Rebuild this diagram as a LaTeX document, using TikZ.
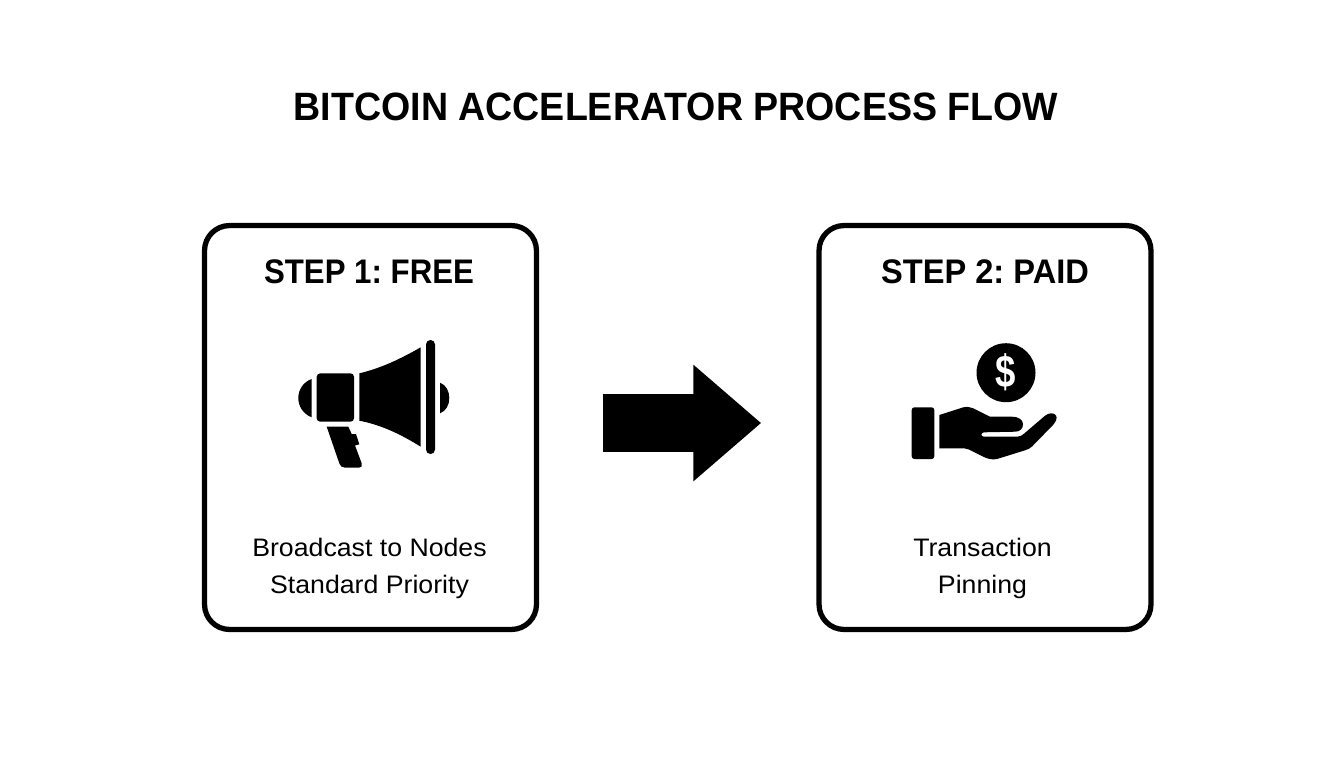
\documentclass[tikz,border=0pt]{standalone}
\usepackage{fontspec}
\setmainfont{Liberation Sans}
\newfontfamily\titlefont[FakeStretch=0.95]{Liberation Sans}
\newfontfamily\headfont[FakeStretch=0.916]{Liberation Sans}
\newfontfamily\paidfont[FakeStretch=0.957]{Liberation Sans}
\newfontfamily\bodyfont[FakeStretch=1.055]{Liberation Sans}
\newfontfamily\coinfont[FakeStretch=0.8]{Liberation Sans}
\usetikzlibrary{arrows.meta, positioning}
\definecolor{myink}{RGB}{0,0,0}
\frenchspacing
\tikzset{
    stepbox/.style={draw=myink, line width=3pt, rounded corners=0.5cm, minimum width=6.64cm, minimum height=8.08cm, outer sep=0pt, inner sep=0pt},
    headtext/.style={font=\headfont\fontsize{19.4}{24}\selectfont\bfseries, text=myink, inner sep=0pt},
    bodytext/.style={font=\bodyfont\fontsize{14.4}{21.3}\selectfont, text=myink, align=center, inner sep=0pt},
    iconfill/.style={fill=myink, draw=none},
}
\begin{document}
\begin{tikzpicture}[x=0.02cm, y=-0.02cm]
    \useasboundingbox (0,0) rectangle (1344,768);

    % Title
    \node[font=\titlefont\fontsize{22.5}{27}\selectfont\bfseries, text=myink, inner sep=0pt] (title) at (676,107) {BITCOIN ACCELERATOR PROCESS FLOW};

    % Step boxes
    \node[stepbox] (freebox) at (370.5,427.5) {};
    \node[stepbox] (paidbox) at (985,427.5) {};

    % Box headings
    \node[headtext] (freehead) at (369,271.5) {STEP 1: FREE};
    \node[headtext, font=\paidfont\fontsize{19.4}{24}\selectfont\bfseries] (paidhead) at (985,271.5) {STEP 2: PAID};

    % Box captions
    \node[bodytext] (freetext) at (369.5,568.5) {Broadcast to Nodes\\Standard Priority};
    \node[bodytext] (paidtext) at (982.5,568.5) {Transaction\\Pinning};

    % Megaphone
    \fill[iconfill] (311.7,379) .. controls (303,382) and (298.3,390) .. (298.3,398)
        .. controls (298.3,406) and (303,414) .. (311.7,417.3) -- cycle;
    \fill[iconfill, rounded corners=2pt] (316.7,373.3) rectangle (354,421.7);
    \fill[iconfill] (359.3,373.3) .. controls (382,368) and (402,358) .. (420.7,347.3)
        -- (420.7,446.7) .. controls (402,435) and (382,425) .. (359.3,420.7) -- cycle;
    \fill[iconfill, rounded corners=2.5pt] (426,340) rectangle (435,454);
    \fill[iconfill] (440,382.7) .. controls (446,385) and (449.3,391) .. (449.3,398)
        .. controls (449.3,405) and (446,411) .. (440,413.3) -- cycle;
    \fill[iconfill] (326.7,426.7) -- (348.3,426.7) -- (351.7,434) -- (356,434) -- (359.3,444.3)
        -- (355,445.5) -- (361.7,463.3) .. controls (362.5,466) and (361.5,467.7) .. (359,467.7)
        -- (345,467.7) .. controls (342,467.7) and (340,466) .. (339.3,463.3) -- cycle;

    % Coin and hand
    \node[circle, iconfill, minimum size=1.18cm, inner sep=0pt, text=white, font=\coinfont\fontsize{26}{26}\selectfont\bfseries] (coin) at (1006,372.7) {\$};
    \fill[iconfill, rounded corners=1.5pt] (911.7,407.3) rectangle (934.3,459);
    \fill[iconfill] (939.3,415) -- (963.3,407.3) .. controls (967,406.5) and (970,407) .. (973.3,408.3)
        -- (990,416.7) -- (1011.7,416.7) .. controls (1019,416.7) and (1023,420) .. (1023,424.3)
        .. controls (1023,428.5) and (1020,431.7) .. (1015,431.7) -- (984,432.3)
        .. controls (980.5,432.5) and (980.5,436.7) .. (984,436.7) -- (1017,436.7)
        .. controls (1020,436.7) and (1022,435.5) .. (1024,433.7) -- (1045,415.7)
        .. controls (1049,412.5) and (1054,412.5) .. (1056,415.5)
        .. controls (1057.5,418) and (1056,421.5) .. (1053,425) -- (1032,446.5)
        .. controls (1030,448.5) and (1028,449.3) .. (1025,450.3) -- (997,459)
        .. controls (992,460) and (988,459) .. (983.3,456.7) -- (969,449.5)
        .. controls (967,448.5) and (966,448.3) .. (964,448.3) -- (939.3,448.3) -- cycle;

    % Arrow between boxes
    \draw[myink, line width=33.4pt, -{Triangle[length=38.6pt, width=63.8pt, sep=0pt]}, shorten <=37.7pt, shorten >=32.9pt]
        ([yshift=2.55pt]freebox.east) -- ([yshift=2.55pt]paidbox.west);
\end{tikzpicture}
\end{document}
